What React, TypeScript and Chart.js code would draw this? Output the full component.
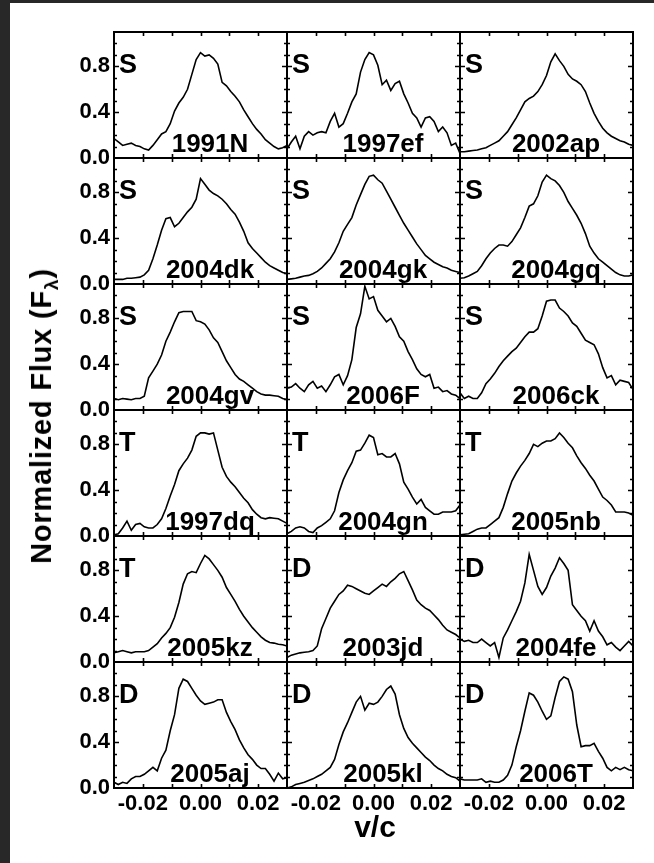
import React, { useEffect, useRef } from 'react';
import { Chart, registerables } from 'chart.js';

Chart.register(...registerables);

// ---------- data ----------
const VELOCITY = [
  -0.03, -0.0285, -0.027, -0.0255, -0.024, -0.0225, -0.021, -0.0195, -0.018, -0.0165,
  -0.015, -0.0135, -0.012, -0.0105, -0.009, -0.0075, -0.006, -0.0045, -0.003, -0.0015,
  0.0, 0.0015, 0.003, 0.0045, 0.006, 0.0075, 0.009, 0.0105, 0.012, 0.0135,
  0.015, 0.0165, 0.018, 0.0195, 0.021, 0.0225, 0.024, 0.0255, 0.027, 0.0285, 0.03,
];

const SN_1991N = [0.17, 0.14, 0.11, 0.12, 0.13, 0.11, 0.10, 0.08, 0.07, 0.11, 0.16, 0.21, 0.23, 0.30, 0.41, 0.48, 0.53, 0.60, 0.73, 0.86, 0.92, 0.89, 0.90, 0.87, 0.82, 0.66, 0.63, 0.58, 0.54, 0.49, 0.42, 0.36, 0.30, 0.25, 0.21, 0.16, 0.13, 0.10, 0.08, 0.09, 0.11];
const SN_1997ef = [0.08, 0.14, 0.19, 0.08, 0.19, 0.23, 0.20, 0.22, 0.23, 0.22, 0.32, 0.39, 0.27, 0.30, 0.39, 0.49, 0.56, 0.75, 0.86, 0.92, 0.90, 0.81, 0.64, 0.68, 0.59, 0.65, 0.67, 0.56, 0.48, 0.39, 0.35, 0.27, 0.35, 0.36, 0.32, 0.23, 0.27, 0.22, 0.11, 0.13, 0.04];
const SN_2002ap = [0.055, 0.055, 0.06, 0.065, 0.07, 0.08, 0.09, 0.11, 0.13, 0.15, 0.19, 0.23, 0.29, 0.35, 0.42, 0.49, 0.52, 0.54, 0.58, 0.64, 0.72, 0.84, 0.91, 0.85, 0.80, 0.73, 0.69, 0.67, 0.64, 0.58, 0.48, 0.39, 0.32, 0.26, 0.22, 0.19, 0.17, 0.15, 0.14, 0.12, 0.11];
const SN_2004dk = [0.04, 0.04, 0.04, 0.05, 0.05, 0.055, 0.06, 0.08, 0.12, 0.22, 0.34, 0.47, 0.57, 0.58, 0.50, 0.53, 0.58, 0.63, 0.67, 0.74, 0.92, 0.87, 0.82, 0.79, 0.77, 0.74, 0.70, 0.65, 0.61, 0.54, 0.46, 0.36, 0.31, 0.27, 0.23, 0.19, 0.16, 0.14, 0.12, 0.10, 0.09];
const SN_2004gk = [0.04, 0.045, 0.05, 0.06, 0.07, 0.075, 0.09, 0.11, 0.14, 0.18, 0.22, 0.28, 0.36, 0.46, 0.52, 0.58, 0.69, 0.78, 0.87, 0.94, 0.95, 0.91, 0.88, 0.81, 0.74, 0.67, 0.60, 0.53, 0.47, 0.41, 0.35, 0.30, 0.25, 0.22, 0.19, 0.17, 0.15, 0.14, 0.12, 0.11, 0.10];
const SN_2004gq = [0.05, 0.055, 0.07, 0.09, 0.11, 0.16, 0.22, 0.27, 0.31, 0.34, 0.34, 0.33, 0.37, 0.43, 0.49, 0.58, 0.68, 0.70, 0.77, 0.89, 0.95, 0.92, 0.90, 0.86, 0.80, 0.72, 0.66, 0.60, 0.53, 0.44, 0.33, 0.27, 0.22, 0.19, 0.16, 0.13, 0.10, 0.08, 0.07, 0.07, 0.08];
const SN_2004gv = [0.10, 0.09, 0.10, 0.095, 0.09, 0.10, 0.10, 0.12, 0.28, 0.34, 0.40, 0.48, 0.60, 0.68, 0.77, 0.85, 0.86, 0.86, 0.86, 0.78, 0.77, 0.75, 0.70, 0.63, 0.59, 0.51, 0.43, 0.37, 0.31, 0.27, 0.25, 0.22, 0.19, 0.16, 0.14, 0.13, 0.13, 0.125, 0.12, 0.10, 0.09];
const SN_2006F = [0.19, 0.20, 0.23, 0.19, 0.16, 0.22, 0.25, 0.19, 0.21, 0.16, 0.22, 0.29, 0.31, 0.22, 0.30, 0.44, 0.72, 0.84, 1.08, 0.97, 0.99, 0.87, 0.82, 0.77, 0.80, 0.73, 0.64, 0.60, 0.51, 0.44, 0.36, 0.31, 0.29, 0.31, 0.19, 0.20, 0.16, 0.17, 0.14, 0.13, 0.10];
const SN_2006ck = [0.15, 0.10, 0.12, 0.10, 0.10, 0.15, 0.23, 0.27, 0.32, 0.38, 0.43, 0.47, 0.51, 0.54, 0.59, 0.64, 0.68, 0.68, 0.71, 0.82, 0.95, 0.96, 0.96, 0.89, 0.86, 0.82, 0.76, 0.73, 0.67, 0.61, 0.59, 0.57, 0.49, 0.37, 0.28, 0.30, 0.22, 0.26, 0.25, 0.24, 0.18];
const SN_1997dq = [0.01, 0.02, 0.07, 0.13, 0.05, 0.10, 0.11, 0.08, 0.07, 0.07, 0.10, 0.15, 0.24, 0.35, 0.45, 0.57, 0.63, 0.68, 0.75, 0.87, 0.90, 0.90, 0.89, 0.90, 0.75, 0.60, 0.52, 0.47, 0.43, 0.38, 0.33, 0.29, 0.23, 0.19, 0.16, 0.15, 0.16, 0.155, 0.15, 0.13, 0.11];
const SN_2004gn = [0.02, 0.04, 0.07, 0.08, 0.07, 0.04, 0.03, 0.07, 0.09, 0.12, 0.15, 0.22, 0.38, 0.49, 0.57, 0.64, 0.74, 0.75, 0.81, 0.88, 0.86, 0.71, 0.72, 0.69, 0.69, 0.72, 0.63, 0.47, 0.41, 0.34, 0.28, 0.32, 0.25, 0.22, 0.19, 0.19, 0.21, 0.21, 0.21, 0.22, 0.27];
const SN_2005nb = [0.01, 0.015, 0.02, 0.04, 0.06, 0.07, 0.07, 0.10, 0.13, 0.16, 0.25, 0.37, 0.48, 0.55, 0.61, 0.66, 0.72, 0.80, 0.78, 0.81, 0.83, 0.83, 0.85, 0.90, 0.86, 0.81, 0.77, 0.70, 0.64, 0.59, 0.53, 0.48, 0.41, 0.34, 0.31, 0.27, 0.21, 0.21, 0.21, 0.20, 0.18];
const SN_2005kz = [0.08, 0.09, 0.10, 0.09, 0.08, 0.09, 0.09, 0.09, 0.10, 0.13, 0.16, 0.21, 0.25, 0.30, 0.39, 0.52, 0.68, 0.77, 0.79, 0.78, 0.86, 0.93, 0.90, 0.85, 0.80, 0.74, 0.65, 0.59, 0.53, 0.46, 0.40, 0.35, 0.30, 0.26, 0.22, 0.19, 0.17, 0.165, 0.155, 0.15, 0.14];
const SN_2003jd = [0.04, 0.06, 0.07, 0.08, 0.085, 0.09, 0.10, 0.14, 0.29, 0.38, 0.47, 0.53, 0.59, 0.62, 0.67, 0.66, 0.64, 0.62, 0.60, 0.59, 0.62, 0.65, 0.68, 0.66, 0.70, 0.73, 0.77, 0.79, 0.71, 0.63, 0.54, 0.50, 0.47, 0.45, 0.41, 0.37, 0.32, 0.28, 0.26, 0.24, 0.21];
const SN_2004fe = [0.20, 0.18, 0.19, 0.17, 0.17, 0.20, 0.17, 0.14, 0.17, 0.04, 0.21, 0.28, 0.36, 0.44, 0.53, 0.69, 0.94, 0.80, 0.66, 0.59, 0.65, 0.75, 0.82, 0.91, 0.86, 0.80, 0.50, 0.45, 0.40, 0.36, 0.27, 0.36, 0.27, 0.22, 0.15, 0.17, 0.13, 0.10, 0.14, 0.18, 0.14];
const SN_2005aj = [0.05, 0.03, 0.05, 0.04, 0.08, 0.10, 0.10, 0.12, 0.15, 0.18, 0.15, 0.26, 0.33, 0.50, 0.64, 0.87, 0.95, 0.93, 0.87, 0.81, 0.76, 0.73, 0.74, 0.75, 0.77, 0.77, 0.66, 0.58, 0.51, 0.42, 0.35, 0.29, 0.25, 0.20, 0.17, 0.17, 0.12, 0.06, 0.13, 0.08, 0.09];
const SN_2005kl = [0.00, 0.01, 0.03, 0.04, 0.05, 0.065, 0.08, 0.10, 0.12, 0.15, 0.18, 0.25, 0.38, 0.49, 0.57, 0.66, 0.75, 0.80, 0.68, 0.74, 0.73, 0.75, 0.80, 0.86, 0.89, 0.82, 0.64, 0.52, 0.44, 0.39, 0.35, 0.31, 0.27, 0.24, 0.20, 0.17, 0.15, 0.12, 0.10, 0.09, 0.06];
const SN_2006T = [0.08, 0.07, 0.07, 0.07, 0.07, 0.08, 0.05, 0.06, 0.05, 0.05, 0.07, 0.11, 0.20, 0.36, 0.50, 0.67, 0.83, 0.81, 0.75, 0.67, 0.60, 0.63, 0.79, 0.93, 0.97, 0.95, 0.84, 0.55, 0.36, 0.37, 0.37, 0.39, 0.32, 0.26, 0.18, 0.15, 0.18, 0.16, 0.18, 0.16, 0.15];

const SN_NAMES = [
  '1991N', '1997ef', '2002ap',
  '2004dk', '2004gk', '2004gq',
  '2004gv', '2006F', '2006ck',
  '1997dq', '2004gn', '2005nb',
  '2005kz', '2003jd', '2004fe',
  '2005aj', '2005kl', '2006T',
];
const SN_TYPES = [
  'S', 'S', 'S',
  'S', 'S', 'S',
  'S', 'S', 'S',
  'T', 'T', 'T',
  'T', 'D', 'D',
  'D', 'D', 'D',
];
const SN_SERIES = [
  SN_1991N, SN_1997ef, SN_2002ap,
  SN_2004dk, SN_2004gk, SN_2004gq,
  SN_2004gv, SN_2006F, SN_2006ck,
  SN_1997dq, SN_2004gn, SN_2005nb,
  SN_2005kz, SN_2003jd, SN_2004fe,
  SN_2005aj, SN_2005kl, SN_2006T,
];

const X_TICK_LABELS = [-0.02, 0.0, 0.02];
const X_TICK_MARKS = [-0.02, -0.01, 0.0, 0.01, 0.02];
const Y_TICK_LABELS = [0.0, 0.4, 0.8];
const Y_TICK_MARKS = [0.1, 0.2, 0.3, 0.4, 0.5, 0.6, 0.7, 0.8, 0.9, 1.0];
const Y_MAJOR_MARKS = [0.4, 0.8];

const X_TITLE = 'v/c';
const Y_TITLE = 'Normalized Flux (F';
const Y_TITLE_SUB = 'λ';

// ---------- layout ----------
const FONT = '"Liberation Sans", Arial, Helvetica, sans-serif';
const COL_LEFT = [114, 287, 460];
const ROW_TOP = [32, 158, 284, 410, 536, 662];
const PANEL_W = 173;
const PANEL_H = 126;
const PAD_L = 60;
const PAD_T = 20;
const PAD_R = 20;
const PAD_B = 40;

Chart.defaults.font.family = FONT;
Chart.defaults.color = '#000';

const panelDecor = {
  id: 'panelDecor',
  afterDatasetsDraw(chart: any, _args: any, opts: any) {
    const { ctx, chartArea: a, scales } = chart;
    const xs = scales.x;
    const ys = scales.y;
    ctx.save();
    ctx.strokeStyle = '#000';
    ctx.lineCap = 'butt';
    ctx.lineWidth = 1.6;
    for (const v of X_TICK_MARKS) {
      const px = Math.round(xs.getPixelForValue(v)) + 0.5;
      ctx.beginPath();
      ctx.moveTo(px, a.bottom);
      ctx.lineTo(px, a.bottom - 4);
      ctx.moveTo(px, a.top);
      ctx.lineTo(px, a.top + 4);
      ctx.stroke();
    }
    for (const v of Y_TICK_MARKS) {
      const py = Math.round(ys.getPixelForValue(v)) + 0.5;
      const len = Y_MAJOR_MARKS.some((m) => Math.abs(m - v) < 1e-9) ? 5 : 3;
      ctx.beginPath();
      ctx.moveTo(a.left, py);
      ctx.lineTo(a.left + len, py);
      ctx.moveTo(a.right, py);
      ctx.lineTo(a.right - len, py);
      ctx.stroke();
    }
    ctx.lineWidth = 2;
    ctx.strokeRect(a.left, a.top, a.right - a.left, a.bottom - a.top);

    ctx.fillStyle = '#000';
    ctx.textBaseline = 'alphabetic';
    ctx.textAlign = 'left';
    ctx.font = `bold 27px ${FONT}`;
    ctx.fillText(opts.type, a.left + 5, a.top + 41);
    ctx.textAlign = 'center';
    ctx.font = `bold 26px ${FONT}`;
    ctx.fillText(opts.name, a.left + 96, a.bottom - 6);
    ctx.restore();
  },
};

function Panel({ index }: { index: number }) {
  const ref = useRef<HTMLCanvasElement>(null);
  const col = index % 3;
  const row = Math.floor(index / 3);
  const showX = row === ROW_TOP.length - 1;
  const showY = col === 0;
  const w = PAD_L + PANEL_W + PAD_R;
  const h = PAD_T + PANEL_H + PAD_B;

  useEffect(() => {
    const series = SN_SERIES[index];
    const chart = new Chart(ref.current as HTMLCanvasElement, {
      type: 'line',
      data: {
        datasets: [
          {
            data: VELOCITY.map((v, i) => ({ x: v, y: series[i] })),
            borderColor: '#000',
            borderWidth: 1.6,
            pointRadius: 0,
            tension: 0,
            fill: false,
          },
        ],
      },
      options: {
        responsive: false,
        maintainAspectRatio: false,
        animation: false,
        events: [],
        layout: { padding: { left: 0, top: PAD_T, right: PAD_R, bottom: 0 } },
        plugins: {
          legend: { display: false },
          tooltip: { enabled: false },
          panelDecor: { type: SN_TYPES[index], name: SN_NAMES[index] },
        } as any,
        scales: {
          x: {
            type: 'linear',
            min: -0.03,
            max: 0.03,
            grid: { display: false, drawTicks: false },
            border: { display: false },
            ticks: {
              display: showX,
              autoSkip: false,
              maxRotation: 0,
              padding: 3,
              color: '#000',
              font: { family: FONT, size: 22, weight: 'bold' },
              callback: (v: any) => Number(v).toFixed(2),
            },
            afterBuildTicks: (s: any) => {
              s.ticks = X_TICK_LABELS.map((v) => ({ value: v }));
            },
            afterFit: (s: any) => {
              s.height = PAD_B;
            },
          },
          y: {
            type: 'linear',
            min: 0,
            max: 1.1,
            grid: { display: false, drawTicks: false },
            border: { display: false },
            ticks: {
              display: showY,
              autoSkip: false,
              padding: 4,
              color: '#000',
              font: { family: FONT, size: 22, weight: 'bold' },
              callback: (v: any) => Number(v).toFixed(1),
            },
            afterBuildTicks: (s: any) => {
              s.ticks = Y_TICK_LABELS.map((v) => ({ value: v }));
            },
            afterFit: (s: any) => {
              s.width = PAD_L;
            },
          },
        },
      } as any,
      plugins: [panelDecor as any],
    });
    return () => chart.destroy();
  }, [index]);

  return (
    <canvas
      ref={ref}
      width={w}
      height={h}
      style={{
        position: 'absolute',
        left: COL_LEFT[col] - PAD_L,
        top: ROW_TOP[row] - PAD_T,
        width: w,
        height: h,
      }}
    />
  );
}

export default function App() {
  return (
    <div
      style={{
        position: 'absolute',
        left: 0,
        top: 0,
        width: 654,
        height: 863,
        background: '#fff',
        overflow: 'hidden',
        fontFamily: FONT,
      }}
    >
      <div style={{ position: 'absolute', left: 0, top: 0, width: 654, height: 3, background: '#282828' }} />
      <div style={{ position: 'absolute', left: 0, top: 0, width: 10, height: 863, background: '#282828' }} />
      {SN_NAMES.map((_, i) => (
        <Panel key={i} index={i} />
      ))}
      <div
        style={{
          position: 'absolute',
          left: 43,
          top: 416,
          transform: 'translate(-50%, -50%) rotate(-90deg)',
          whiteSpace: 'nowrap',
          fontWeight: 'bold',
          fontSize: 29,
          lineHeight: '29px',
          letterSpacing: '0.8px',
          color: '#000',
        }}
      >
        {Y_TITLE}
        <span style={{ position: 'relative', top: 7, fontSize: 19 }}>{Y_TITLE_SUB}</span>)
      </div>
      <div
        style={{
          position: 'absolute',
          left: 375,
          top: 812,
          transform: 'translateX(-50%)',
          whiteSpace: 'nowrap',
          fontWeight: 'bold',
          fontSize: 30,
          lineHeight: '30px',
          color: '#000',
        }}
      >
        {X_TITLE}
      </div>
    </div>
  );
}
